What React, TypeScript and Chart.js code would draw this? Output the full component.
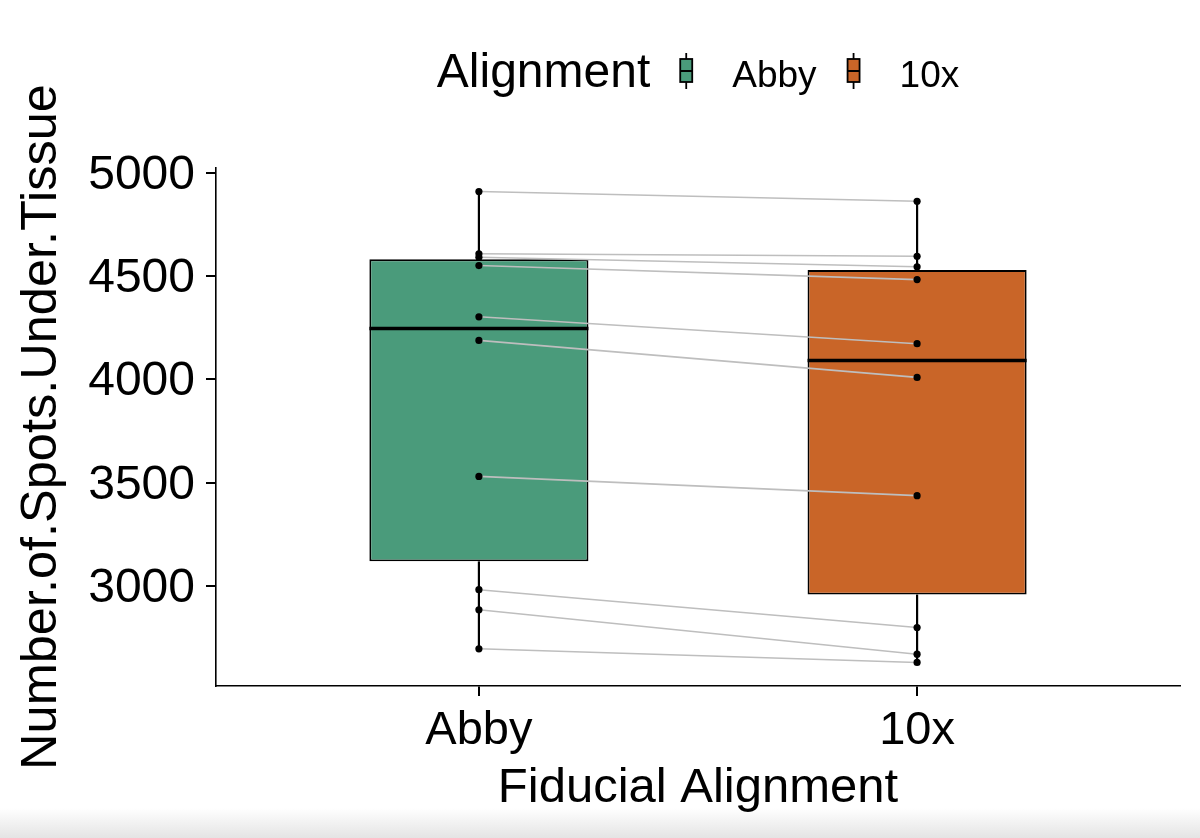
import React, { useEffect, useRef } from 'react';
import { Chart, registerables } from 'chart.js';

Chart.register(...registerables);

// ---------- data ----------
const CATEGORIES = ['Abby', '10x'];
const ABBY_SPOTS = [4908, 4607, 4590, 4550, 4302, 4188, 3530, 2982, 2885, 2696];
const TENX_SPOTS = [4861, 4595, 4544, 4482, 4172, 4009, 3437, 2799, 2670, 2630];
const Y_TICKS = [3000, 3500, 4000, 4500, 5000];
const BOX_COLORS = ['#4A9B7B', '#C96528'];
const LEGEND_TITLE = 'Alignment';
const X_TITLE = 'Fiducial Alignment';
const Y_TITLE = 'Number.of.Spots.Under.Tissue';

const FONT = '"Liberation Sans", Arial, sans-serif';

function quantile(values: number[], p: number) {
  const s = [...values].sort((a, b) => a - b);
  const h = (s.length - 1) * p;
  const lo = Math.floor(h);
  const hi = Math.ceil(h);
  return s[lo] + (h - lo) * (s[hi] - s[lo]);
}

function boxStats(values: number[]) {
  const q1 = quantile(values, 0.25);
  const med = quantile(values, 0.5);
  const q3 = quantile(values, 0.75);
  const iqr = q3 - q1;
  const inside = values.filter((v) => v >= q1 - 1.5 * iqr && v <= q3 + 1.5 * iqr);
  return { q1, med, q3, lo: Math.min(...inside), hi: Math.max(...inside) };
}

const GROUPS = [ABBY_SPOTS, TENX_SPOTS];
const STATS = GROUPS.map(boxStats);

export default function App() {
  const ref = useRef<HTMLCanvasElement | null>(null);

  useEffect(() => {
    document.body.style.margin = '0';
    const canvas = ref.current;
    if (!canvas) return;

    const all = [...ABBY_SPOTS, ...TENX_SPOTS];
    const dMin = Math.min(...all);
    const dMax = Math.max(...all);
    const pad = (dMax - dMin) * 0.05;

    const medianPlugin = {
      id: 'medianLines',
      afterDatasetDraw(chart: any, args: any) {
        if (args.index !== 0) return;
        const meta = chart.getDatasetMeta(0);
        const ctx = chart.ctx;
        ctx.save();
        ctx.strokeStyle = '#000';
        ctx.lineWidth = 3.5;
        meta.data.forEach((el: any, i: number) => {
          const { x, width } = el.getProps(['x', 'width'], true);
          const y = chart.scales.y.getPixelForValue(STATS[i].med);
          ctx.beginPath();
          ctx.moveTo(x - width / 2, y);
          ctx.lineTo(x + width / 2, y);
          ctx.stroke();
        });
        ctx.restore();
      },
    };

    const legendPlugin = {
      id: 'ggLegend',
      afterDraw(chart: any) {
        const ctx = chart.ctx;
        const area = chart.chartArea;
        ctx.save();
        const titleFont = `48px ${FONT}`;
        const labelFont = `37px ${FONT}`;
        ctx.font = titleFont;
        const tw = ctx.measureText(LEGEND_TITLE).width;
        ctx.font = labelFont;
        const lw = CATEGORIES.map((c) => ctx.measureText(c).width);
        const glyphW = 12;
        const gapTitle = 30;
        const gapGlyph = 40;
        const gapItem = 31;
        const total =
          tw + gapTitle + CATEGORIES.reduce((acc, _c, i) => acc + (i > 0 ? gapItem : 0) + glyphW + gapGlyph + lw[i], 0);
        let x = (area.left + area.right) / 2 - total / 2;
        const baseline = 87;
        const cy = 71;
        ctx.fillStyle = '#000';
        ctx.textBaseline = 'alphabetic';
        ctx.textAlign = 'left';
        ctx.font = titleFont;
        ctx.fillText(LEGEND_TITLE, x, baseline);
        x += tw + gapTitle;
        CATEGORIES.forEach((c, i) => {
          if (i > 0) x += gapItem;
          const gx = x + glyphW / 2;
          ctx.strokeStyle = '#000';
          ctx.lineWidth = 1.8;
          ctx.beginPath();
          ctx.moveTo(gx, cy - 18);
          ctx.lineTo(gx, cy + 18);
          ctx.stroke();
          ctx.fillStyle = BOX_COLORS[i];
          ctx.fillRect(x, cy - 12, glyphW, 23);
          ctx.strokeRect(x, cy - 12, glyphW, 23);
          ctx.lineWidth = 2;
          ctx.beginPath();
          ctx.moveTo(x, cy);
          ctx.lineTo(x + glyphW, cy);
          ctx.stroke();
          x += glyphW + gapGlyph;
          ctx.fillStyle = '#000';
          ctx.font = labelFont;
          ctx.fillText(c, x, baseline);
          x += lw[i];
        });
        ctx.restore();
      },
    };

    const whiskers: any[] = [];
    STATS.forEach((s, i) => {
      whiskers.push({
        type: 'line',
        data: [{ x: i + 1, y: s.q3 }, { x: i + 1, y: s.hi }],
        borderColor: '#000',
        borderWidth: 2.2,
        pointRadius: 0,
        order: 5,
      });
      whiskers.push({
        type: 'line',
        data: [{ x: i + 1, y: s.lo }, { x: i + 1, y: s.q1 }],
        borderColor: '#000',
        borderWidth: 2.2,
        pointRadius: 0,
        order: 5,
      });
    });

    const pairLines = ABBY_SPOTS.map((a, i) => ({
      type: 'line',
      data: [{ x: 1, y: a }, { x: 2, y: TENX_SPOTS[i] }],
      borderColor: '#BEBEBE',
      borderWidth: 1.6,
      pointRadius: 0,
      order: 2,
    }));

    const points = {
      type: 'scatter',
      data: GROUPS.flatMap((g, gi) => g.map((v) => ({ x: gi + 1, y: v }))),
      backgroundColor: '#000',
      borderWidth: 0,
      pointRadius: 3.6,
      order: 1,
    };

    const chart = new Chart(canvas, {
      type: 'bar',
      data: {
        datasets: [
          {
            type: 'bar',
            data: STATS.map((s, i) => ({ x: i + 1, y: [s.q1, s.q3] })),
            backgroundColor: BOX_COLORS,
            borderColor: '#000',
            borderWidth: 1.9,
            borderSkipped: false,
            barPercentage: 0.5,
            categoryPercentage: 1,
            order: 4,
          } as any,
          ...whiskers,
          ...pairLines,
          points as any,
        ],
      },
      options: {
        animation: false,
        responsive: true,
        maintainAspectRatio: false,
        layout: { padding: { top: 168, right: 20, bottom: 0, left: 0 } },
        plugins: { legend: { display: false }, tooltip: { enabled: false } },
        scales: {
          x: {
            type: 'linear',
            min: 0.4,
            max: 2.6,
            offset: false,
            afterBuildTicks: (axis: any) => {
              axis.ticks = CATEGORIES.map((_c, i) => ({ value: i + 1 }));
            },
            afterFit: (scale: any) => {
              scale.height = 152;
            },
            ticks: {
              autoSkip: false,
              maxRotation: 0,
              padding: 7,
              color: '#000',
              font: { family: FONT, size: 47 },
              callback: (v: any) => CATEGORIES[Math.round(Number(v)) - 1],
            },
            grid: {
              display: true,
              offset: false,
              drawOnChartArea: false,
              drawTicks: true,
              tickLength: 10,
              color: '#000',
              lineWidth: 2,
            },
            border: { display: true, color: '#000', width: 1.6 },
            title: {
              display: true,
              text: X_TITLE,
              color: '#000',
              font: { family: FONT, size: 49 },
              padding: { top: 0, bottom: 20 },
            },
          },
          y: {
            type: 'linear',
            min: dMin - pad,
            max: dMax + pad,
            afterBuildTicks: (axis: any) => {
              axis.ticks = Y_TICKS.map((v) => ({ value: v }));
            },
            afterFit: (scale: any) => {
              scale.width = 216;
            },
            ticks: {
              padding: 11,
              labelOffset: 3,
              color: '#000',
              font: { family: FONT, size: 48 },
              callback: (v: any) => String(v),
            },
            grid: { display: true, drawOnChartArea: false, drawTicks: true, tickLength: 10, color: '#000', lineWidth: 2 },
            border: { display: true, color: '#000', width: 1.6 },
            title: {
              display: true,
              text: Y_TITLE,
              color: '#000',
              font: { family: FONT, size: 50.5 },
              padding: { top: 12, bottom: 0 },
            },
          },
        },
      } as any,
      plugins: [medianPlugin, legendPlugin],
    });

    return () => chart.destroy();
  }, []);

  return (
    <div
      style={{
        width: 1200,
        height: 838,
        position: 'relative',
        background: 'linear-gradient(to bottom, #ffffff 0px, #ffffff 808px, #e4e4e4 838px)',
      }}
    >
      <canvas ref={ref} />
    </div>
  );
}
